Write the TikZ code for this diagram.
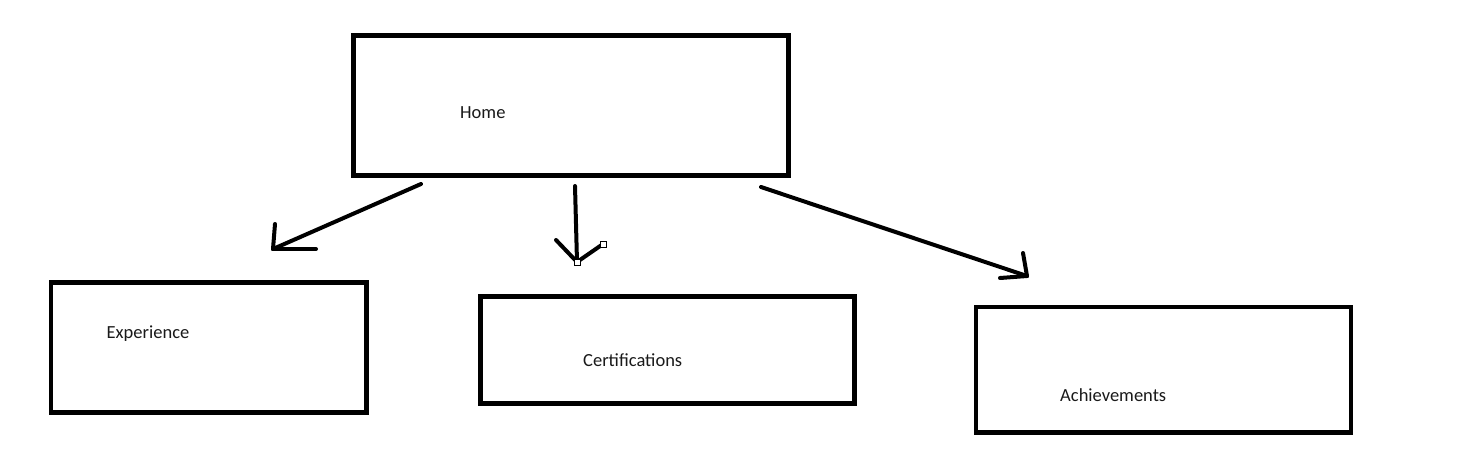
\documentclass[tikz,border=0pt]{standalone}
\usepackage{fontspec}
\setmainfont{Carlito}
\usetikzlibrary{positioning}

\tikzset{
  pagebox/.style={draw,line width=4.5pt},
  label/.style={anchor=base west,inner sep=0pt,font=\fontsize{18.5}{22}\selectfont,text=black!90},
  pen/.style={line width=4pt,line cap=round,line join=round},
  handle/.style={draw,fill=white,line width=0.6pt,minimum size=6pt,inner sep=0pt}
}

\begin{document}
\begin{tikzpicture}[x=1pt,y=-1pt]
  \useasboundingbox (0,0) rectangle (1479,458);

  % boxes
  \draw[pagebox] (353.5,35.5) rectangle (788.5,175.5);
  \draw[pagebox] (50.8,282.5) rectangle (366.5,412.5);
  \draw[pagebox] (480.5,296.5) rectangle (854.5,403.5);
  \draw[pagebox] (975.8,306.8) rectangle (1350.8,432.5);

  % labels
  \node[label] (home) at (460,118) {Home};
  \node[label] (exp) at (106.5,338) {Experience};
  \node[label] (cert) at (583,366) {Certifications};
  \node[label] (ach) at (1060,401.5) {Achievements};

  % hand drawn arrows
  \coordinate (a1) at (421,184);
  \coordinate (a1tip) at (273,249);
  \coordinate (b1) at (575,186);
  \coordinate (b1tip) at (577,262);
  \coordinate (c1) at (761,187);
  \coordinate (c1tip) at (1027,276);

  \draw[pen] (a1) -- (a1tip);
  \draw[pen] (a1tip) -- +(2,-25);
  \draw[pen] (a1tip) -- +(43,0);

  \draw[pen] (b1) -- (b1tip);
  \draw[pen] (b1tip) -- +(-21,-22);
  \draw[pen] (b1tip) -- +(26,-18);
  \node[handle] (h1) at (b1tip) {};
  \node[handle] (h2) at (603,244) {};

  \draw[pen] (c1) -- (c1tip);
  \draw[pen] (c1tip) -- +(-4,-23);
  \draw[pen] (c1tip) -- +(-27,2);
\end{tikzpicture}
\end{document}
